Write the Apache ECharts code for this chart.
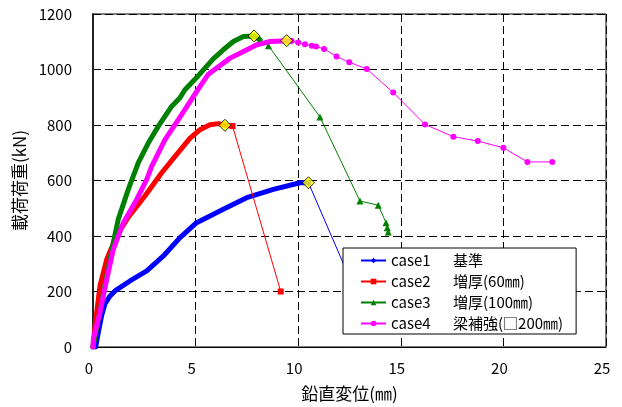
<!DOCTYPE html>
<html><head><meta charset="utf-8">
<script src="https://cdn.jsdelivr.net/npm/echarts@6/dist/echarts.min.js"></script>
<style>html,body{margin:0;padding:0;background:#fff}#c{width:622px;height:407px}</style>
</head><body><div id="c"></div>
<script>
const FONT = '"Noto Sans CJK JP", "Noto Sans", sans-serif';
const seriesNames = ['case1 基準', 'case2 増厚(60㎜)', 'case3 増厚(100㎜)', 'case4 梁補強(□200㎜)'];
const colors = ['#0000FF', '#FF0000', '#008000', '#FF00FF'];
const symbols = ['diamond', 'rect', 'triangle', 'circle'];

const xTicks = [0, 5, 10, 15, 20, 25];
const yTicks = [0, 200, 400, 600, 800, 1000, 1200];

// case1 基準
const case1RiseX = [0, 0.13, 0.26, 0.42, 0.58, 0.83, 1.07, 1.80, 2.62, 3.43, 4.24, 5.05, 6.35, 7.49, 8.79, 10.09, 10.5];
const case1RiseY = [0, 0, 53, 113, 155, 184, 202, 238, 274, 328, 394, 448, 496, 538, 568, 592, 592];
const case1PostX = [10.5, 13.4];
const case1PostY = [592, 95];

// case2 増厚(60㎜)
const case2RiseX = [0, 0.1, 0.34, 0.67, 1.15, 1.72, 2.53, 3.35, 4.0, 4.73, 5.21, 5.7, 6.1, 6.43, 6.8];
const case2RiseY = [0, 77, 220, 316, 400, 468, 544, 628, 687, 753, 783, 801, 805, 799, 796];
const case2PostX = [6.8, 9.15];
const case2PostY = [796, 200];

// case3 増厚(100㎜)
const case3RiseX = [0, 0.34, 0.67, 0.99, 1.23, 1.72, 2.21, 2.7, 3.18, 3.83, 4.24, 4.48, 5.1, 5.86, 6.35, 6.84, 7.33, 7.85, 8.14];
const case3RiseY = [0, 130, 255, 376, 460, 568, 664, 736, 795, 867, 898, 927, 975, 1038, 1071, 1101, 1119, 1121, 1107];
const case3PostX = [8.14, 8.55, 11.06, 13.01, 13.9, 14.28, 14.34, 14.39];
const case3PostY = [1107, 1086, 829, 526, 511, 448, 430, 414];

// case4 梁補強(□200㎜)
const case4RiseX = [0, 0.02, 0.34, 0.67, 0.99, 1.48, 2.13, 2.62, 2.86, 3.51, 4.16, 5.0, 5.62, 6.68, 7.33, 7.98, 8.63, 9.44, 9.68];
const case4RiseY = [0, 29, 125, 244, 352, 448, 532, 604, 651, 747, 819, 915, 983, 1041, 1065, 1089, 1101, 1104, 1103];
const case4PostX = [9.68, 10.0, 10.33, 10.66, 10.87, 11.26, 11.87, 12.49, 13.34, 14.63, 16.18, 17.56, 18.75, 20.0, 21.17, 22.38];
const case4PostY = [1103, 1097, 1091, 1086, 1083, 1074, 1047, 1026, 1002, 917, 802, 758, 742, 718, 667, 667];

// peak markers
const peakX = [10.5, 6.43, 7.85, 9.44];
const peakY = [592, 799, 1121, 1104];

const rise = [[case1RiseX, case1RiseY], [case2RiseX, case2RiseY], [case3RiseX, case3RiseY], [case4RiseX, case4RiseY]];
const post = [[case1PostX, case1PostY], [case2PostX, case2PostY], [case3PostX, case3PostY], [case4PostX, case4PostY]];
const zip = (xs, ys) => xs.map((x, i) => [x, ys[i]]);
const symSizes = [6, 6, 7, 6];

const series = [];
for (let i = 0; i < 4; i++) {
  series.push({
    name: 'rise' + i, type: 'line', data: zip(rise[i][0], rise[i][1]),
    showSymbol: false, symbol: 'none', lineStyle: { color: colors[i], width: 5, join: 'round', cap: 'round' },
    itemStyle: { color: colors[i] }, z: 2 + i, animation: false, silent: true
  });
  series.push({
    name: seriesNames[i], type: 'line', data: zip(post[i][0], post[i][1]),
    symbol: symbols[i], symbolSize: symSizes[i], showSymbol: true,
    lineStyle: { color: colors[i], width: 1 }, itemStyle: { color: colors[i] }, z: 2 + i, animation: false
  });
}
series.push({
  name: 'peak', type: 'scatter', data: zip(peakX, peakY), symbol: 'diamond', symbolSize: 12,
  itemStyle: { color: '#FFFF00', borderColor: '#000', borderWidth: 1 }, z: 10, animation: false
});

const chart = echarts.init(document.getElementById('c'), null, { renderer: 'canvas' });
chart.setOption({
  animation: false,
  backgroundColor: '#fff',
  grid: { left: 93, right: 16, top: 14, bottom: 59, show: true, borderColor: '#000', borderWidth: 1, backgroundColor: 'transparent' },
  xAxis: {
    type: 'value', min: xTicks[0], max: xTicks[xTicks.length - 1], interval: 5,
    name: '鉛直変位(㎜)', nameLocation: 'middle', nameGap: 38,
    nameTextStyle: { fontFamily: FONT, fontSize: 17, color: '#000' },
    axisLine: { lineStyle: { color: '#000', width: 1 } },
    axisTick: { show: false },
    axisLabel: { fontFamily: FONT, fontSize: 15, color: '#000', margin: 14, padding: [0, 8, 0, 0], formatter: v => String(v) },
    splitLine: { show: true, lineStyle: { color: '#000', width: 1, type: [8, 4] } }
  },
  yAxis: {
    type: 'value', min: yTicks[0], max: yTicks[yTicks.length - 1], interval: 200,
    name: '載荷荷重(kN)', nameLocation: 'middle', nameGap: 62,
    nameTextStyle: { fontFamily: FONT, fontSize: 17, color: '#000' },
    axisLine: { show: true, lineStyle: { color: '#222', width: 2 } },
    axisTick: { show: false },
    axisLabel: { fontFamily: FONT, fontSize: 15, color: '#000', margin: 21, formatter: v => String(v) },
    splitLine: { show: true, lineStyle: { color: '#000', width: 1, type: [8, 4] } }
  },
  legend: {
    data: seriesNames, orient: 'vertical', left: 343, top: 248,
    backgroundColor: '#fff', borderColor: '#000', borderWidth: 1, borderRadius: 0,
    padding: [5, 13, 3, 17], itemWidth: 25, itemHeight: 7, itemGap: 6, itemTextGap: 5,
    selectedMode: false,
    formatter: function (n) {
      const k = n.indexOf(' ');
      return '{a|' + n.slice(0, k) + '}{b|' + n.slice(k + 1) + '}';
    },
    textStyle: {
      fontFamily: FONT, fontSize: 15, color: '#000',
      rich: {
        a: { fontFamily: FONT, fontSize: 15, color: '#000', width: 62, lineHeight: 16 },
        b: { fontFamily: FONT, fontSize: 15, color: '#000', lineHeight: 16 }
      }
    }
  },
  series: series
});
</script></body></html>
